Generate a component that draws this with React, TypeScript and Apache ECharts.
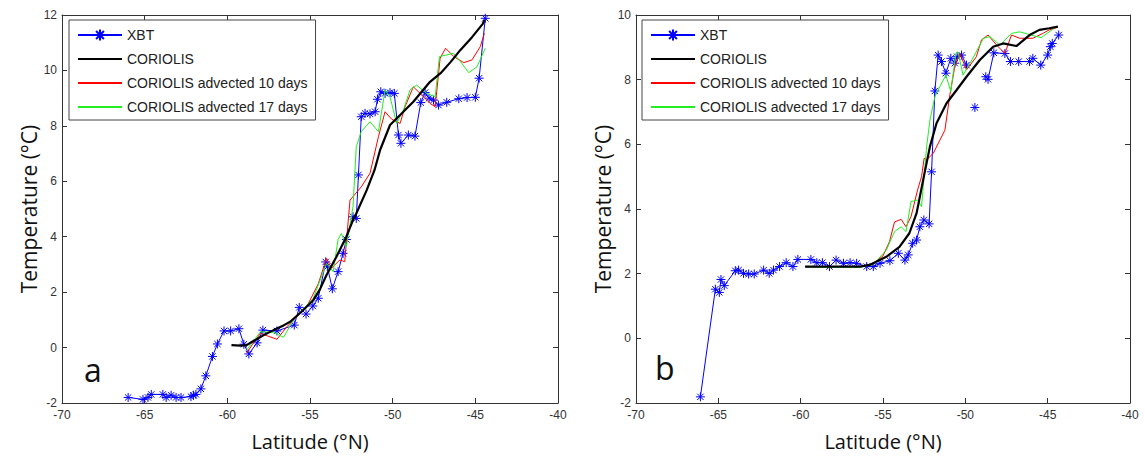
import React, { useEffect, useRef } from "react";
import * as echarts from "echarts";

const legendNames = ["XBT", "CORIOLIS", "CORIOLIS advected 10 days", "CORIOLIS advected 17 days"];
const xTicks = { min: -70, max: -40, interval: 5 };
const yTicksA = { min: -2, max: 12, interval: 2 };
const yTicksB = { min: -2, max: 10, interval: 2 };

const xbtA = [[-66.0,-1.8],[-65.1,-1.87],[-64.8,-1.8],[-64.6,-1.69],[-63.9,-1.69],[-63.7,-1.8],[-63.4,-1.72],[-63.1,-1.8],[-62.8,-1.8],[-62.2,-1.77],[-62.05,-1.72],[-61.9,-1.69],[-61.6,-1.49],[-61.3,-1.02],[-60.9,-0.32],[-60.6,0.13],[-60.2,0.6],[-59.8,0.6],[-59.3,0.68],[-59.0,0.12],[-58.7,-0.23],[-58.2,0.17],[-57.85,0.63],[-57.0,0.6],[-55.95,0.81],[-55.65,1.45],[-55.24,1.21],[-54.83,1.5],[-54.5,1.78],[-54.05,3.09],[-53.95,2.92],[-53.65,2.12],[-53.3,2.74],[-53.0,3.4],[-52.8,3.9],[-52.4,4.72],[-52.2,4.66],[-52.07,6.23],[-51.9,8.33],[-51.67,8.45],[-51.37,8.43],[-51.06,8.51],[-50.92,8.96],[-50.72,9.23],[-50.46,9.17],[-50.16,9.2],[-49.9,9.17],[-49.65,7.67],[-49.5,7.37],[-49.05,7.67],[-48.65,7.63],[-48.3,8.84],[-48.04,9.2],[-47.8,9.0],[-47.53,8.93],[-47.23,8.75],[-46.73,8.85],[-46.0,8.98],[-45.5,9.02],[-45.0,9.03],[-44.77,9.72],[-44.4,11.88]];
const coriolisA = [[-59.75,0.09],[-59.2,0.07],[-58.83,0.09],[-58.5,0.21],[-57.8,0.45],[-57.2,0.63],[-56.6,0.8],[-56.2,0.93],[-55.5,1.3],[-54.8,1.71],[-54.4,2.1],[-54.0,2.62],[-53.4,3.28],[-52.8,4.0],[-52.4,4.6],[-52.2,4.84],[-51.57,5.68],[-51.1,6.4],[-50.76,7.13],[-50.16,8.03],[-49.55,8.39],[-48.75,8.87],[-47.74,9.59],[-47.1,9.9],[-46.5,10.3],[-45.9,10.74],[-45.2,11.2],[-44.55,11.68],[-44.45,11.82]];
const adv10A = [[-58.83,-0.2],[-58.5,0.1],[-58.0,0.51],[-57.0,0.3],[-56.4,0.75],[-55.2,1.47],[-54.5,2.3],[-54.0,3.22],[-53.7,2.86],[-53.2,3.16],[-52.9,3.1],[-52.58,5.32],[-51.9,5.8],[-51.37,6.29],[-50.86,7.61],[-50.46,8.51],[-50.06,8.24],[-49.55,8.09],[-49.25,8.69],[-48.75,9.41],[-48.34,9.17],[-47.74,8.81],[-47.43,8.69],[-47.13,10.44],[-46.8,10.8],[-46.3,10.5],[-45.7,10.28],[-45.2,10.38],[-44.7,10.86],[-44.45,11.34]];
const adv17A = [[-58.83,-0.09],[-58.0,0.57],[-57.2,0.55],[-56.6,0.37],[-56.0,1.0],[-54.8,1.78],[-54.0,3.04],[-53.6,2.74],[-53.3,3.9],[-53.1,4.12],[-52.8,3.64],[-52.4,5.08],[-52.2,7.25],[-51.9,7.79],[-51.37,8.15],[-50.86,7.79],[-50.46,9.3],[-50.16,9.05],[-49.76,8.09],[-49.35,8.57],[-48.95,9.3],[-48.55,9.47],[-47.94,9.17],[-47.43,9.05],[-47.17,10.5],[-46.73,10.56],[-46.33,10.62],[-45.9,10.32],[-45.4,9.92],[-44.9,10.13],[-44.4,10.8]];

const xbtB = [[-66.09,-1.81],[-65.18,1.52],[-64.94,1.42],[-64.84,1.82],[-64.64,1.63],[-63.97,2.09],[-63.77,2.11],[-63.47,2.01],[-63.16,1.99],[-62.82,1.99],[-62.25,2.11],[-61.91,2.01],[-61.65,2.11],[-61.28,2.22],[-60.88,2.34],[-60.47,2.22],[-60.17,2.44],[-59.38,2.44],[-59.02,2.34],[-58.68,2.34],[-58.25,2.22],[-57.85,2.42],[-57.4,2.32],[-57.0,2.34],[-56.6,2.32],[-55.99,2.22],[-55.59,2.22],[-55.18,2.32],[-54.58,2.4],[-54.07,2.63],[-53.67,2.42],[-53.47,2.58],[-53.2,2.94],[-52.96,3.04],[-52.76,3.45],[-52.52,3.66],[-52.2,3.54],[-52.05,5.15],[-51.85,7.65],[-51.65,8.76],[-51.45,8.56],[-51.18,8.2],[-50.88,8.66],[-50.64,8.51],[-50.5,8.71],[-50.23,8.76],[-49.93,8.45],[-49.7,null],[-49.42,7.14],[-49.1,null],[-48.76,8.09],[-48.62,8.01],[-48.27,8.83],[-47.6,8.81],[-47.26,8.56],[-46.76,8.56],[-46.1,8.56],[-45.9,8.66],[-45.42,8.45],[-45.0,8.76],[-44.84,9.02],[-44.72,9.12],[-44.33,9.38]];
const coriolisB = [[-59.73,2.22],[-58.0,2.22],[-56.4,2.22],[-55.8,2.27],[-55.6,2.32],[-54.8,2.52],[-54.0,2.83],[-53.4,3.25],[-52.96,3.87],[-52.56,4.9],[-52.15,5.93],[-51.75,6.65],[-51.14,7.27],[-50.53,7.68],[-49.93,8.09],[-49.12,8.61],[-48.31,9.02],[-47.7,9.12],[-46.9,9.04],[-46.1,9.38],[-45.5,9.54],[-44.9,9.59],[-44.38,9.64]];
const adv10B = [[-59.7,2.22],[-56.4,2.22],[-55.6,2.3],[-55.0,2.55],[-54.6,3.0],[-54.3,3.6],[-53.9,3.68],[-53.6,3.45],[-53.3,3.76],[-52.9,4.59],[-52.66,5.0],[-52.5,5.57],[-52.35,5.52],[-51.95,5.72],[-51.24,6.44],[-50.94,7.53],[-50.64,8.4],[-50.33,8.81],[-49.93,8.3],[-49.33,8.71],[-49.02,9.23],[-48.62,9.38],[-48.1,9.07],[-47.6,8.81],[-47.2,9.38],[-46.7,9.28],[-45.9,9.28],[-45.3,9.43],[-44.9,9.54],[-44.4,9.62]];
const adv17B = [[-59.7,2.2],[-56.4,2.2],[-55.6,2.28],[-54.8,2.73],[-54.3,3.3],[-53.9,3.45],[-53.6,3.3],[-53.3,4.23],[-52.9,4.28],[-52.66,4.07],[-52.35,5.93],[-52.15,6.75],[-51.85,7.47],[-51.55,7.78],[-51.18,8.14],[-50.88,7.63],[-50.58,8.81],[-50.44,8.86],[-50.14,8.14],[-49.6,8.61],[-48.9,9.28],[-48.5,9.33],[-47.9,9.07],[-47.2,9.43],[-46.7,9.48],[-46.0,9.38],[-45.4,9.3],[-44.6,9.59]];

const STAR = "path://M5,0L5,10M0,5L10,5M1.5,1.5L8.5,8.5M1.5,8.5L8.5,1.5";
const AXIS_COLOR = "#333";
const LABEL_FONT = "Liberation Sans";
const TITLE_FONT = "Open Sans";

function makeX(gridIndex: number, bottom: boolean) {
  return {
    type: "value",
    gridIndex,
    position: bottom ? "bottom" : "top",
    min: xTicks.min,
    max: xTicks.max,
    interval: xTicks.interval,
    name: bottom ? "Latitude (°N)" : "",
    nameLocation: "middle",
    nameGap: 28,
    nameTextStyle: { fontFamily: TITLE_FONT, fontSize: 20, color: "#111" },
    axisLine: { show: true, onZero: false, lineStyle: { color: AXIS_COLOR, width: 1 } },
    axisTick: { show: true, inside: true, length: 5, lineStyle: { color: AXIS_COLOR } },
    axisLabel: { show: bottom, fontFamily: LABEL_FONT, fontSize: 12, color: "#333", margin: 6 },
    splitLine: { show: false },
  };
}

function makeY(gridIndex: number, left: boolean, t: { min: number; max: number; interval: number }) {
  return {
    type: "value",
    gridIndex,
    position: left ? "left" : "right",
    min: t.min,
    max: t.max,
    interval: t.interval,
    name: left ? "Temperature (°C)" : "",
    nameLocation: "middle",
    nameGap: 22,
    nameRotate: 90,
    nameTextStyle: { fontFamily: TITLE_FONT, fontSize: 21, color: "#111" },
    axisLine: { show: true, onZero: false, lineStyle: { color: AXIS_COLOR, width: 1 } },
    axisTick: { show: true, inside: true, length: 5, lineStyle: { color: AXIS_COLOR } },
    axisLabel: { show: left, fontFamily: LABEL_FONT, fontSize: 12, color: "#333", margin: 5 },
    splitLine: { show: false },
  };
}

function seriesFor(panel: number, xbt: any[], cor: any[], a10: any[], a17: any[]) {
  const xi = panel * 2;
  const yi = panel * 2;
  return [
    {
      name: legendNames[0], type: "line", xAxisIndex: xi, yAxisIndex: yi, data: xbt,
      color: "#0000ff", symbol: STAR, symbolSize: 9, showSymbol: true,
      lineStyle: { color: "#0000ff", width: 1 },
      itemStyle: { color: "#0000ff", borderColor: "#0000ff", borderWidth: 1 },
      connectNulls: false, z: 2,
    },
    {
      name: legendNames[1], type: "line", xAxisIndex: xi, yAxisIndex: yi, data: cor,
      color: "#000", symbol: "none", lineStyle: { color: "#000", width: 2.2 }, z: 5,
    },
    {
      name: legendNames[2], type: "line", xAxisIndex: xi, yAxisIndex: yi, data: a10,
      color: "#ff0000", symbol: "none", lineStyle: { color: "#ff0000", width: 1 }, z: 3,
    },
    {
      name: legendNames[3], type: "line", xAxisIndex: xi, yAxisIndex: yi, data: a17,
      color: "#22ee22", symbol: "none", lineStyle: { color: "#22ee22", width: 1 }, z: 4,
    },
  ];
}

function makeLegend(left: number) {
  return {
    orient: "vertical",
    left,
    top: 20,
    data: legendNames.map((n, i) =>
      i === 0 ? { name: n } : { name: n, itemStyle: { opacity: 0 } }
    ),
    itemWidth: 44,
    itemHeight: 14,
    itemGap: 10,
    padding: [8, 8, 6, 8],
    backgroundColor: "#fff",
    borderColor: "#444",
    borderWidth: 1,
    borderRadius: 0,
    selectedMode: false,
    textStyle: { fontFamily: LABEL_FONT, fontSize: 14, color: "#222" },
  };
}

export default function App() {
  const ref = useRef<HTMLDivElement>(null);
  useEffect(() => {
    if (!ref.current) return;
    const chart = echarts.init(ref.current, null, { renderer: "svg" });
    chart.setOption({
      animation: false,
      backgroundColor: "#fff",
      grid: [
        { left: 62, top: 15, width: 496, height: 388, containLabel: false },
        { left: 636, top: 15, width: 494, height: 388, containLabel: false },
      ],
      xAxis: [makeX(0, true), makeX(0, false), makeX(1, true), makeX(1, false)],
      yAxis: [makeY(0, true, yTicksA), makeY(0, false, yTicksA), makeY(1, true, yTicksB), makeY(1, false, yTicksB)],
      legend: [makeLegend(69), makeLegend(642)],
      series: [
        ...seriesFor(0, xbtA, coriolisA, adv10A, adv17A),
        ...seriesFor(1, xbtB, coriolisB, adv10B, adv17B),
      ],
      graphic: [
        { type: "text", left: 84, top: 353, style: { text: "a", fontFamily: TITLE_FONT, fontSize: 32, fill: "#111" } },
        { type: "text", left: 655, top: 351, style: { text: "b", fontFamily: TITLE_FONT, fontSize: 32, fill: "#111" } },
      ],
    });
    return () => chart.dispose();
  }, []);
  return (
    <div
      ref={ref}
      style={{ position: "fixed", left: 0, top: 0, width: 1145, height: 461, background: "#fff" }}
    />
  );
}
